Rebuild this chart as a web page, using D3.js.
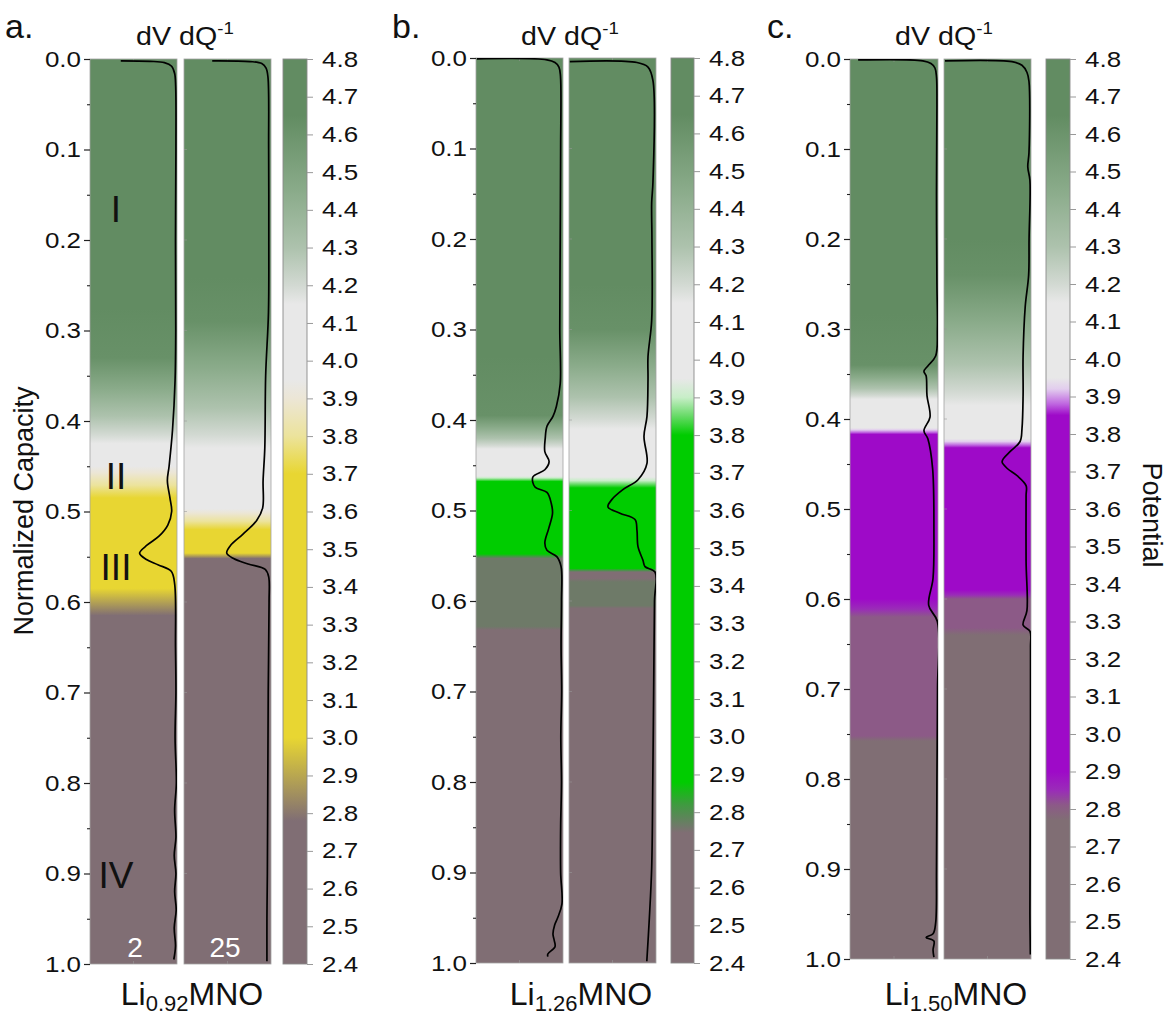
<!DOCTYPE html>
<html>
<head>
<meta charset="utf-8">
<script src="https://cdn.jsdelivr.net/npm/d3@7"></script>
<style>
  body { margin: 0; background: #ffffff; }
  svg { display: block; font-family: "Liberation Sans", Arial, sans-serif; }
</style>
</head>
<body>
<svg id="chart" width="1167" height="1018"></svg>
<script>
// ---------------- data ----------------
const capacityTicks = [0.0, 0.1, 0.2, 0.3, 0.4, 0.5, 0.6, 0.7, 0.8, 0.9, 1.0];
const capacityMinorTicks = [0.05, 0.15, 0.25, 0.35, 0.45, 0.55, 0.65, 0.75, 0.85, 0.95];
const potentialTicks = [2.4, 2.5, 2.6, 2.7, 2.8, 2.9, 3.0, 3.1, 3.2, 3.3, 3.4, 3.5, 3.6,
                        3.7, 3.8, 3.9, 4.0, 4.1, 4.2, 4.3, 4.4, 4.5, 4.6, 4.7, 4.8];
const cycleLabels = ["2", "25"];
const regionLabels = [["I", 0.165], ["II", 0.46], ["III", 0.56], ["IV", 0.90]];

// colour maps: potential (V) -> colour, one per composition
const cmapPotentialA = [2.4, 2.78, 3.0, 3.7, 3.8, 3.9, 3.95, 4.15, 4.2, 4.3, 4.45, 4.6, 4.65, 4.8];
const cmapColorA = ["#806e74", "#806e74", "#e8d632", "#e8d632", "#ece39c", "#ece6d6", "#e8e8e8",
                    "#e8e8e8", "#d2d9d2", "#adc2ad", "#8aab8a", "#6c946c", "#628c62", "#628c62"];
const cmapPotentialB = [2.4, 2.745, 2.765, 2.82, 2.88, 3.8, 3.85, 3.9, 3.95, 4.15, 4.2, 4.3, 4.45, 4.6, 4.65, 4.8];
const cmapColorB = ["#806e74", "#806e74", "#6e7a68", "#3f9a40", "#00cc00", "#00cc00", "#66da66", "#c8eec8",
                    "#e8e8e8", "#e8e8e8", "#d2d9d2", "#adc2ad", "#8aab8a", "#6c946c", "#628c62", "#628c62"];
const cmapPotentialC = [2.4, 2.77, 2.81, 2.85, 2.9, 3.85, 3.88, 3.92, 3.95, 4.15, 4.2, 4.3, 4.45, 4.6, 4.65, 4.8];
const cmapColorC = ["#806e74", "#806e74", "#8c5a87", "#9a2cb8", "#9e0ac8", "#9e0ac8", "#bf66e0", "#e2cdee",
                    "#e8e8e8", "#e8e8e8", "#d2d9d2", "#adc2ad", "#8aab8a", "#6c946c", "#628c62", "#628c62"];

// potential profiles [normalized capacity, potential V]
const profileA2  = [[0, 4.8], [0.33, 4.62], [0.425, 4.15], [0.45, 3.95], [0.485, 3.7], [0.585, 3.0], [0.615, 2.78], [1.0, 2.45]];
const profileA25 = [[0, 4.8], [0.29, 4.62], [0.43, 4.15], [0.497, 3.95], [0.52, 3.7], [0.546, 3.0], [0.552, 2.78], [1.0, 2.45]];
const profileB2  = [[0, 4.8], [0.395, 4.62], [0.432, 4.15], [0.462, 3.95], [0.468, 3.8], [0.548, 2.88],
                    [0.553, 2.765], [0.628, 2.765], [0.633, 2.74], [1.0, 2.45]];
const profileB25 = [[0, 4.8], [0.30, 4.62], [0.41, 4.15], [0.463, 3.95], [0.475, 3.8], [0.564, 2.88], [0.568, 2.745],
                    [0.575, 2.745], [0.579, 2.765], [0.605, 2.765], [0.609, 2.74], [1.0, 2.45]];
const profileC2  = [[0, 4.8], [0.34, 4.62], [0.378, 4.15], [0.41, 3.95], [0.417, 3.85], [0.60, 2.9],
                    [0.62, 2.81], [0.752, 2.81], [0.758, 2.77], [1.0, 2.45]];
const profileC25 = [[0, 4.8], [0.24, 4.62], [0.385, 4.15], [0.422, 3.95], [0.432, 3.85], [0.59, 2.9],
                    [0.60, 2.81], [0.632, 2.81], [0.64, 2.77], [1.0, 2.45]];

// differential curves [normalized capacity, dV/dQ]
const dvdqA2 = [[0.002, -6.4], [0.0026, -3.0], [0.004, -1.3], [0.008, -0.45], [0.016, -0.1], [0.03, 0.02],
  [0.1, 0.05], [0.2, 0.0], [0.3, 0.03], [0.355, -0.05], [0.41, -0.35], [0.45, -0.75], [0.466, -0.95],
  [0.485, -0.65], [0.5, -0.45], [0.515, -0.9], [0.527, -1.9], [0.537, -3.3], [0.546, -4.2], [0.553, -3.4],
  [0.559, -2.0], [0.566, -0.5], [0.58, -0.1], [0.65, 0.0], [0.7, 0.05], [0.75, -0.05], [0.8, 0.1],
  [0.83, -0.1], [0.86, 0.05], [0.88, -0.15], [0.9, 0.05], [0.92, -0.1], [0.94, 0.08], [0.96, -0.15],
  [0.98, 0.0], [0.995, -0.2]];
const dvdqA25 = [[0.002, -6.7], [0.0028, -2.3], [0.005, -0.9], [0.01, -0.4], [0.02, -0.18], [0.1, -0.1],
  [0.2, -0.08], [0.28, -0.12], [0.35, -0.45], [0.43, -0.55], [0.466, -0.75], [0.496, -0.8], [0.51, -1.5],
  [0.525, -3.1], [0.538, -4.6], [0.546, -5.0], [0.552, -4.2], [0.558, -2.5], [0.564, -0.5], [0.572, -0.1],
  [0.6, -0.05], [0.7, -0.15], [0.8, -0.2], [0.9, -0.25], [0.95, -0.3], [0.997, -0.3]];
const dvdqB2 = [[0.001, -9.9], [0.002, -1.7], [0.005, -0.76], [0.01, -0.3], [0.02, -0.12], [0.1, -0.1],
  [0.2, -0.15], [0.3, -0.2], [0.36, -0.15], [0.385, -0.6], [0.396, -1.0], [0.407, -1.7], [0.42, -1.9],
  [0.435, -1.95], [0.446, -1.45], [0.455, -1.95], [0.463, -3.35], [0.474, -3.1], [0.48, -1.7],
  [0.492, -1.2], [0.503, -1.05], [0.52, -1.5], [0.536, -1.95], [0.544, -1.7], [0.551, -0.55],
  [0.562, -0.05], [0.6, 0.0], [0.65, -0.05], [0.7, 0.02], [0.75, -0.08], [0.8, 0.0], [0.85, -0.1],
  [0.9, -0.1], [0.935, 0.05], [0.95, -0.45], [0.958, -0.8], [0.968, -1.0], [0.975, -0.85],
  [0.982, -0.76], [0.99, -1.6], [0.993, -1.6]];
const dvdqB25 = [[0.004, -9.9], [0.005, -2.05], [0.01, -0.76], [0.025, -0.18], [0.137, -0.18], [0.16, -0.33],
  [0.2, -0.3], [0.29, -0.33], [0.33, -0.76], [0.355, -0.76], [0.396, -0.88], [0.418, -1.23], [0.448, -0.88],
  [0.466, -1.93], [0.477, -3.7], [0.488, -5.0], [0.496, -5.44], [0.503, -4.04], [0.51, -2.28],
  [0.522, -2.05], [0.54, -1.93], [0.555, -1.35], [0.562, -1.11], [0.568, 0.06], [0.6, 0.0], [0.7, -0.1],
  [0.8, -0.2], [0.895, -0.33], [0.95, -0.6], [0.998, -0.9]];
const dvdqC2 = [[0.001, -9.06], [0.002, -1.58], [0.005, -0.64], [0.01, -0.18], [0.02, 0.0], [0.05, 0.05],
  [0.15, 0.0], [0.25, 0.05], [0.3, 0.1], [0.33, -0.1], [0.341, -1.0], [0.347, -1.45], [0.352, -1.2],
  [0.374, -1.1], [0.398, -0.75], [0.413, -1.45], [0.422, -1.0], [0.455, -0.45], [0.522, -0.3],
  [0.577, -0.4], [0.607, -0.9], [0.625, 0.1], [0.7, 0.12], [0.8, 0.05], [0.9, 0.0], [0.96, -0.1],
  [0.972, -0.4], [0.976, -1.2], [0.98, -0.3], [0.99, -0.4], [0.998, -0.3]];
const dvdqC25 = [[0.002, -9.88], [0.003, -2.05], [0.007, -0.88], [0.015, -0.29], [0.025, -0.06],
  [0.104, -0.06], [0.12, -0.2], [0.135, 0.05], [0.2, -0.05], [0.24, -0.1], [0.275, -0.5], [0.33, -0.75],
  [0.374, -0.75], [0.411, -0.88], [0.425, -1.1], [0.436, -2.25], [0.444, -3.05], [0.448, -3.2],
  [0.455, -2.6], [0.463, -1.45], [0.474, -0.4], [0.485, -0.4], [0.558, -0.4], [0.613, -0.3],
  [0.629, -0.75], [0.636, 0.06], [0.654, 0.12], [0.8, 0.1], [0.95, 0.05], [0.995, 0.1]];

const panels = [
  { id: "a", letter: "a.", name: ["Li", "0.92", "MNO"], cmapPotential: cmapPotentialA, cmapColor: cmapColorA,
    strips: [{ profile: profileA2, dvdq: dvdqA2 }, { profile: profileA25, dvdq: dvdqA25 }] },
  { id: "b", letter: "b.", name: ["Li", "1.26", "MNO"], cmapPotential: cmapPotentialB, cmapColor: cmapColorB,
    strips: [{ profile: profileB2, dvdq: dvdqB2 }, { profile: profileB25, dvdq: dvdqB25 }] },
  { id: "c", letter: "c.", name: ["Li", "1.50", "MNO"], cmapPotential: cmapPotentialC, cmapColor: cmapColorC,
    strips: [{ profile: profileC2, dvdq: dvdqC2 }, { profile: profileC25, dvdq: dvdqC25 }] }
];

// ---------------- layout ----------------
const layout = {
  a: { top: 59, bottom: 964, strips: [[90, 177], [184, 271]], bar: [283, 307], letterX: 5, titleX: 185, nameX: 192 },
  b: { top: 58, bottom: 963, strips: [[476, 563], [569, 656]], bar: [671, 694], letterX: 392, titleX: 570, nameX: 581 },
  c: { top: 59, bottom: 959, strips: [[850, 938], [944, 1031]], bar: [1046, 1070], letterX: 767, titleX: 944, nameX: 956 }
};
const tickFont = 22, tickStretch = 1.18;

const svg = d3.select("#chart");
const defs = svg.append("defs");

// widen text glyphs horizontally
function stretch(sel, f) {
  sel.each(function () {
    const w = this.getComputedTextLength();
    d3.select(this).attr("textLength", w * f).attr("lengthAdjust", "spacingAndGlyphs");
  });
}

// gradient stops for a strip: profile points plus every colour-map break crossed in between
function stripStops(profile, cmapPot, color) {
  const stops = [];
  for (let i = 0; i < profile.length; i++) {
    const [q0, v0] = profile[i];
    stops.push([q0, color(v0)]);
    if (i === profile.length - 1) break;
    const [q1, v1] = profile[i + 1];
    const lo = Math.min(v0, v1), hi = Math.max(v0, v1);
    const crossed = cmapPot.filter(p => p > lo && p < hi);
    crossed.sort((a, b) => (v1 < v0 ? b - a : a - b));
    crossed.forEach(p => stops.push([q0 + (p - v0) / (v1 - v0) * (q1 - q0), color(p)]));
  }
  return stops;
}

panels.forEach(p => {
  const L = layout[p.id];
  const g = svg.append("g");
  const y = d3.scaleLinear().domain([0, 1]).range([L.top, L.bottom]);
  const pot = d3.scaleLinear().domain([4.8, 2.4]).range([L.top, L.bottom]);
  const color = d3.scaleLinear().domain(p.cmapPotential).range(p.cmapColor)
    .interpolate(d3.interpolateRgb).clamp(true);

  // potential strips with dV/dQ traces
  p.strips.forEach((s, i) => {
    const [x0, x1] = L.strips[i];
    const gid = `grad-${p.id}-${i}`;
    const grad = defs.append("linearGradient").attr("id", gid)
      .attr("gradientUnits", "userSpaceOnUse")
      .attr("x1", 0).attr("x2", 0).attr("y1", y(0)).attr("y2", y(1));
    stripStops(s.profile, p.cmapPotential, color).forEach(([q, c]) =>
      grad.append("stop").attr("offset", q).attr("stop-color", c));
    g.append("rect").attr("x", x0).attr("y", y(0)).attr("width", x1 - x0).attr("height", y(1) - y(0))
      .attr("fill", `url(#${gid})`).attr("stroke", "#a3a3a3").attr("stroke-width", 0.8);

    // faint inner ticks
    const inner = g.append("g").attr("stroke", "#9a9a9a").attr("stroke-width", 0.8).attr("opacity", 0.7);
    const xm = (x0 + x1) / 2;
    inner.append("line").attr("x1", xm).attr("x2", xm).attr("y1", y(0)).attr("y2", y(0) + 3);
    inner.append("line").attr("x1", xm).attr("x2", xm).attr("y1", y(1)).attr("y2", y(1) - 3);
    if (i === 1) {
      inner.selectAll(null).data(capacityTicks.slice(1, -1)).join("line")
        .attr("x1", x0).attr("x2", x0 + 3).attr("y1", d => y(d)).attr("y2", d => y(d));
    }

    const cid = `clip-${p.id}-${i}`;
    defs.append("clipPath").attr("id", cid).append("rect")
      .attr("x", x0).attr("y", y(0)).attr("width", x1 - x0).attr("height", y(1) - y(0));
    const xv = d3.scaleLinear().domain([-10, 0]).range([x0, x1 - 1.5]);
    const line = d3.line().x(d => xv(d[1])).y(d => y(d[0])).curve(d3.curveCatmullRom.alpha(0.5));
    g.append("path").attr("d", line(s.dvdq)).attr("fill", "none")
      .attr("stroke", "#000").attr("stroke-width", 1.7).attr("stroke-linejoin", "round")
      .attr("clip-path", `url(#${cid})`);
  });

  // capacity axis
  const ax = g.append("g").attr("transform", `translate(${L.strips[0][0]},0)`)
    .call(d3.axisLeft(y).tickValues(capacityTicks).tickFormat(d3.format(".1f")).tickSize(6).tickPadding(3));
  ax.attr("font-size", null).attr("font-family", null);
  ax.select(".domain").remove();
  ax.selectAll(".tick line").attr("stroke", "#222").attr("stroke-width", 1.2);
  ax.selectAll(".tick text").attr("font-size", tickFont).attr("fill", "#111").call(stretch, tickStretch);
  const axm = g.append("g").attr("transform", `translate(${L.strips[0][0]},0)`)
    .call(d3.axisLeft(y).tickValues(capacityMinorTicks).tickFormat("").tickSize(3));
  axm.select(".domain").remove();
  axm.selectAll(".tick line").attr("stroke", "#222").attr("stroke-width", 1.1);

  // colour bar
  const bid = `bar-${p.id}`;
  const bg = defs.append("linearGradient").attr("id", bid).attr("gradientUnits", "userSpaceOnUse")
    .attr("x1", 0).attr("x2", 0).attr("y1", pot(4.8)).attr("y2", pot(2.4));
  p.cmapPotential.slice().sort((a, b) => b - a).forEach(v =>
    bg.append("stop").attr("offset", (pot(v) - pot(4.8)) / (pot(2.4) - pot(4.8))).attr("stop-color", color(v)));
  g.append("rect").attr("x", L.bar[0]).attr("y", pot(4.8)).attr("width", L.bar[1] - L.bar[0])
    .attr("height", pot(2.4) - pot(4.8)).attr("fill", `url(#${bid})`)
    .attr("stroke", "#8a8a8a").attr("stroke-width", 0.9);
  const bx = g.append("g").attr("transform", `translate(${L.bar[1]},0)`)
    .call(d3.axisRight(pot).tickValues(potentialTicks).tickFormat(d3.format(".1f")).tickSize(6).tickPadding(9));
  bx.attr("font-size", null).attr("font-family", null);
  bx.select(".domain").remove();
  bx.selectAll(".tick line").attr("stroke", "#999").attr("stroke-width", 1);
  bx.selectAll(".tick text").attr("font-size", tickFont).attr("fill", "#111").call(stretch, tickStretch);

  // panel letter and header
  g.append("text").attr("x", L.letterX).attr("y", 38).attr("font-size", 34).attr("fill", "#111").text(p.letter);
  const t = g.append("text").attr("x", L.titleX).attr("y", 45).attr("text-anchor", "middle")
    .attr("font-size", 26).attr("fill", "#111");
  t.append("tspan").text("dV dQ");
  t.append("tspan").attr("dy", -11).attr("font-size", 17).text("-1");
  t.call(stretch, 1.1);

  // composition label
  const n = g.append("text").attr("x", L.nameX).attr("y", 1005).attr("text-anchor", "middle")
    .attr("font-size", 32).attr("fill", "#111");
  n.append("tspan").text(p.name[0]);
  n.append("tspan").attr("dy", 6).attr("font-size", 22).text(p.name[1]);
  n.append("tspan").attr("dy", -6).text(p.name[2]);

  if (p.id === "a") {
    regionLabels.forEach(([lab, q]) => {
      g.append("text").attr("x", 116).attr("y", y(q) + 14).attr("text-anchor", "middle")
        .attr("font-size", 37).attr("fill", "#111").text(lab);
    });
    const cycleX = [135, 225];
    cycleLabels.forEach((lab, i) => {
      g.append("text").attr("x", cycleX[i]).attr("y", 957).attr("text-anchor", "middle")
        .attr("font-size", 28).attr("fill", "#ffffff").text(lab);
    });
  }
});

// axis titles
svg.append("text").attr("transform", "translate(33,511) rotate(-90)").attr("text-anchor", "middle")
  .attr("font-size", 27).attr("fill", "#111").text("Normalized Capacity");
svg.append("text").attr("transform", "translate(1143,515) rotate(90)").attr("text-anchor", "middle")
  .attr("font-size", 27).attr("fill", "#111").text("Potential");
</script>
</body>
</html>
